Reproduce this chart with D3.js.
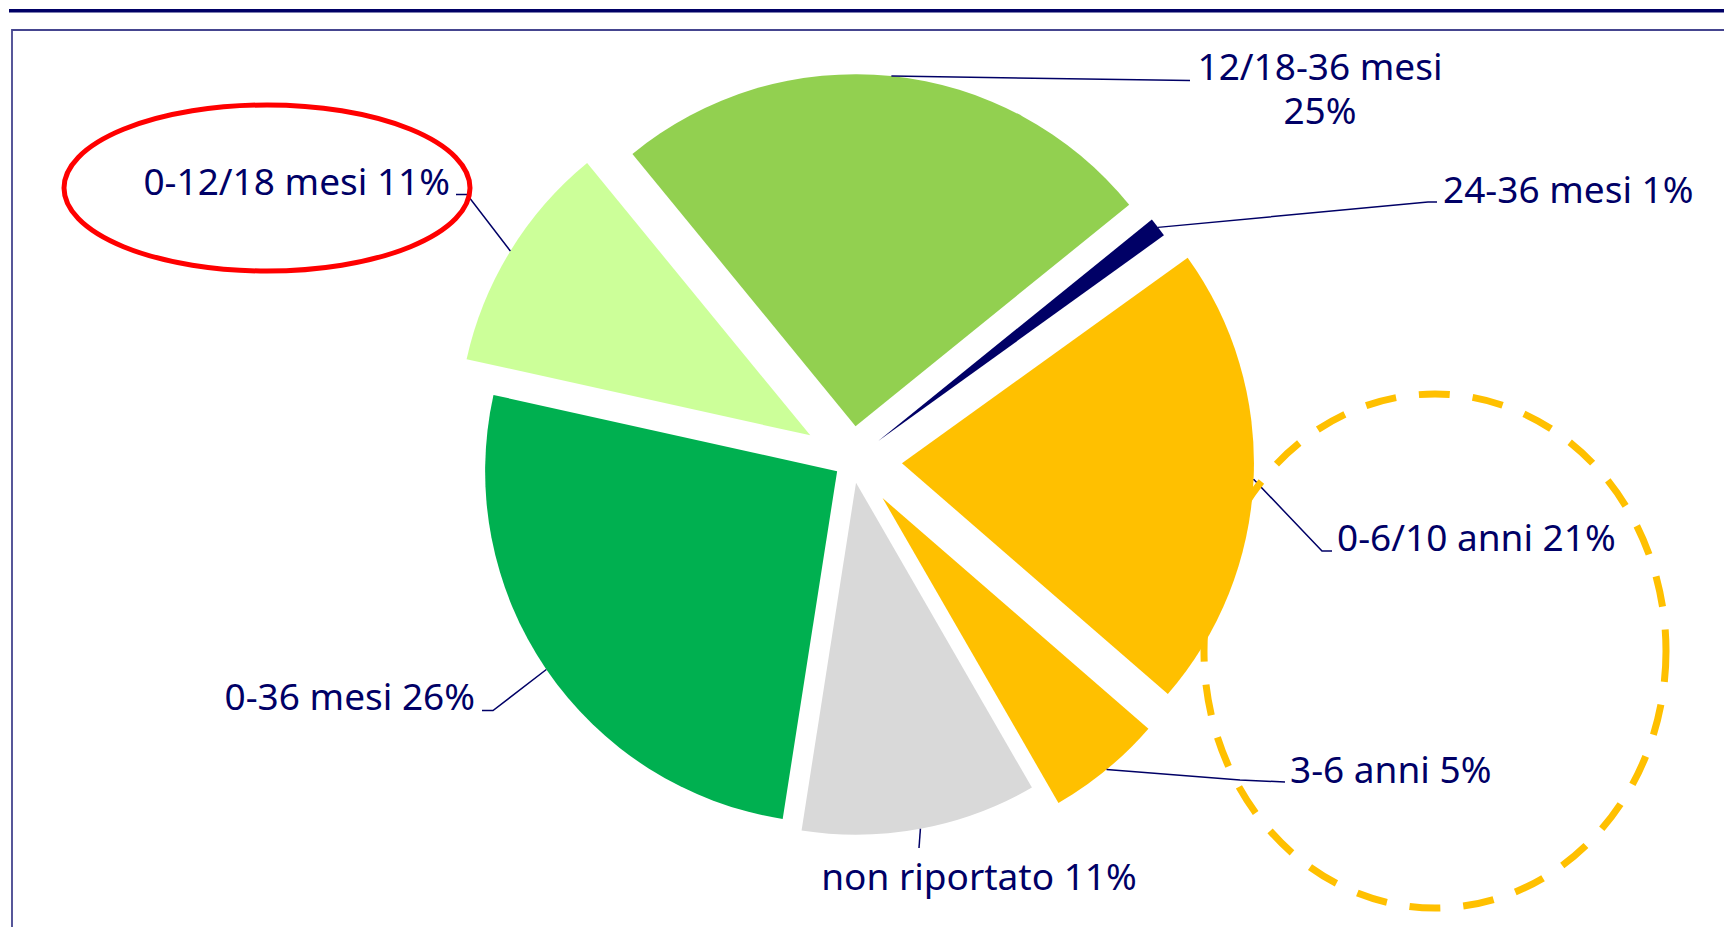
<!DOCTYPE html>
<html>
<head>
<meta charset="utf-8">
<script src="https://cdn.jsdelivr.net/npm/d3@7"></script>
<style>
  html, body { margin: 0; padding: 0; background: #fff; }
  svg { display: block; }
  .label { font-family: "Noto Sans", "Open Sans", sans-serif; font-size: 37px; fill: #000066; }
</style>
</head>
<body>
<svg id="chart" width="1724" height="927"></svg>
<script>
// data, clockwise from the slice at the upper left
const categories = ["0-12/18 mesi", "12/18-36 mesi", "24-36 mesi", "0-6/10 anni", "3-6 anni", "non riportato", "0-36 mesi"];
const values = [10.6, 25.1, 0.9, 21.3, 5.3, 10.8, 26.0];
const colors = ["#CCFF99", "#92D050", "#000066", "#FFC000", "#FFC000", "#D9D9D9", "#00B050"];

// layout
const W = 1724, H = 927;
const cx = 852, cy = 461, R = 352;
const startDeg = -77.5;
const explode = [49, 35, 33, 50, 48, 22, 18];
// label anchor, text-anchor and leader bend points
const labelLayout = [
  { x: 450, y: 195, anchor: "end", bends: [[467, 194.5], [456, 194.5]] },
  { x: 1320, y: 80, anchor: "middle", twoLines: true, bends: [[1190, 80.5]] },
  { x: 1443, y: 203, anchor: "start", bends: [[1428, 202], [1437, 202]] },
  { x: 1337, y: 551, anchor: "start", bends: [[1322, 551], [1332, 551]] },
  { x: 1290, y: 783, anchor: "start", bends: [[1240, 780], [1285, 782]] },
  { x: 979, y: 890, anchor: "middle", bends: [[919, 848]] },
  { x: 475, y: 710, anchor: "end", bends: [[493, 710.5], [482, 710.5]] }
];

const rad = d => d * Math.PI / 180;
const svg = d3.select("#chart");

// top rule and frame
svg.append("rect").attr("x", 9).attr("y", 9).attr("width", W - 9).attr("height", 3.5).attr("fill", "#000066");
svg.append("path")
  .attr("d", `M12,${H + 5} L12,30 L${W + 5},30`)
  .attr("fill", "none").attr("stroke", "#45458f").attr("stroke-width", 1.8);

const pie = d3.pie().sort(null).value(d => d)
  .startAngle(rad(startDeg)).endAngle(rad(startDeg + 360));
const arcs = pie(values);
const arc = d3.arc().innerRadius(0).outerRadius(R);

const g = svg.append("g").attr("transform", `translate(${cx},${cy})`);

function shift(d, i) {
  const mid = (d.startAngle + d.endAngle) / 2;
  return [explode[i] * Math.sin(mid), -explode[i] * Math.cos(mid)];
}

g.selectAll("path.slice")
  .data(arcs)
  .enter().append("path")
  .attr("class", "slice")
  .attr("d", arc)
  .attr("fill", (d, i) => colors[i])
  .attr("transform", (d, i) => { const s = shift(d, i); return `translate(${s[0]},${s[1]})`; });

// leader lines
const line = d3.line();
arcs.forEach((d, i) => {
  const mid = (d.startAngle + d.endAngle) / 2;
  const s = shift(d, i);
  const p0 = [cx + s[0] + R * Math.sin(mid), cy + s[1] - R * Math.cos(mid)];
  svg.append("path")
    .attr("d", line([p0].concat(labelLayout[i].bends)))
    .attr("fill", "none").attr("stroke", "#000066").attr("stroke-width", 1.5);
});

// labels
arcs.forEach((d, i) => {
  const L = labelLayout[i];
  const pct = Math.round(values[i]) + "%";
  const t = svg.append("text").attr("class", "label")
    .attr("x", L.x).attr("y", L.y).attr("text-anchor", L.anchor);
  if (L.twoLines) {
    t.append("tspan").attr("x", L.x).text(categories[i]);
    t.append("tspan").attr("x", L.x).attr("dy", 44).text(pct);
  } else {
    t.text(categories[i] + " " + pct);
  }
});

// highlight marks
svg.append("ellipse")
  .attr("cx", 267).attr("cy", 188).attr("rx", 203).attr("ry", 83)
  .attr("fill", "none").attr("stroke", "#FF0000").attr("stroke-width", 5);

svg.append("ellipse")
  .attr("cx", 1435).attr("cy", 651).attr("rx", 231).attr("ry", 257)
  .attr("fill", "none").attr("stroke", "#FFC000").attr("stroke-width", 7)
  .attr("stroke-dasharray", "31 23");
</script>
</body>
</html>
